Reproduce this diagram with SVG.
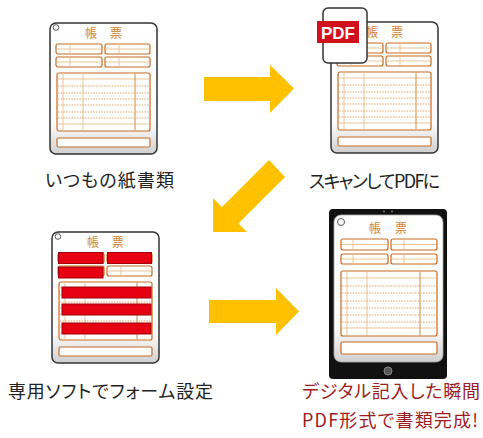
<svg xmlns="http://www.w3.org/2000/svg" xmlns:xlink="http://www.w3.org/1999/xlink" width="483" height="438" viewBox="0 0 483 438">
  <style>
    .frame { fill: url(#paper); stroke: #333; stroke-width: 1.5; }
    .box { fill: #fff; stroke: #C96A20; stroke-width: 1.2; }
    .thin { stroke: #EDC394; stroke-width: 1; fill: none; }
    .rule { stroke: #D08A45; stroke-width: 1; fill: none; }
    .dot { stroke: #E2A464; stroke-width: 1; stroke-dasharray: 1.5 1.2; fill: none; }
    .hole { fill: #fff; stroke: #555; stroke-width: 1; }
    .title { font-family: "Noto Sans CJK JP", sans-serif; font-size: 12px; fill: #D5822F; text-anchor: middle; }
    .red { fill: #E60012; stroke: #A0000A; stroke-width: 1; }
    .arrow { fill: #FFC000; }
    .label { font-family: "Noto Sans CJK JP", "Noto Sans", sans-serif; font-size: 18px; fill: #222; font-feature-settings: "palt"; }
    .accent { fill: #9E1B1E; }
  </style>
  <defs>
    <linearGradient id="paper" x1="0" y1="0" x2="0" y2="1">
      <stop offset="0" stop-color="#fff"/>
      <stop offset="0.78" stop-color="#fbfbfb"/>
      <stop offset="1" stop-color="#cfcfcf"/>
    </linearGradient>
    <!-- paper form: frame, title, two rows of fields, ruled table and footer box -->
    <g id="ledger">
      <rect class="frame" x="0" y="0" width="107" height="131" rx="6"/>
      <circle class="hole" cx="6" cy="4.5" r="2.8"/>
      <text class="title" x="41" y="14.5">帳</text>
      <text class="title" x="66" y="14.5">票</text>
      <rect class="box" x="6" y="21" width="46" height="10" rx="2"/>
      <rect class="box" x="55" y="21" width="45" height="10" rx="2"/>
      <rect class="box" x="6" y="34" width="46" height="10" rx="2"/>
      <rect class="box" x="55" y="34" width="45" height="10" rx="2"/>
      <path class="thin" d="M7 26H51M56 26H99M7 39H51M56 39H99M20 21.6V30.4M69 21.6V30.4M20 34.6V43.4M69 34.6V43.4"/>
      <rect class="box" x="7" y="50" width="93" height="58" rx="2"/>
      <path class="thin" d="M7.6 56H99.4M7.6 101H99.4M13 50.6V107.4M33 50.6V107.4"/>
      <path class="rule" d="M85 50.6V107.4"/>
      <path class="dot" d="M8 63H99M8 70H99M8 76H99M8 82H99M8 89H99M8 95H99"/>
      <rect class="box" x="7" y="115" width="93" height="9" rx="1.5"/>
    </g>
  </defs>

  <!-- step 1: paper form -->
  <g id="paper-form">
    <use xlink:href="#ledger" transform="translate(50,23)"/>
  </g>

  <!-- step 2: scanned form with PDF badge -->
  <g id="scanned-pdf">
    <use xlink:href="#ledger" transform="translate(331,22)"/>
    <rect x="323" y="8" width="44" height="55" rx="5" fill="#fff" stroke="#333" stroke-width="1.5"/>
    <rect x="317" y="21" width="42" height="22" fill="#D0101C"/>
    <text x="338" y="38.5" text-anchor="middle" font-family="Liberation Sans, Arial, sans-serif" font-weight="bold" font-size="17" fill="#fff">PDF</text>
  </g>

  <!-- step 3: form fields defined in software -->
  <g id="form-setup">
    <use xlink:href="#ledger" transform="translate(52,232)"/>
    <g transform="translate(52,232)">
      <rect class="red" x="6.5" y="20.5" width="44.5" height="11"/>
      <rect class="red" x="55.5" y="20.5" width="44" height="11"/>
      <rect class="red" x="6.5" y="35" width="44.5" height="11"/>
      <rect class="red" x="10" y="55" width="89" height="11"/>
      <rect class="red" x="10" y="72" width="89" height="11"/>
      <rect class="red" x="10" y="91" width="89" height="11"/>
    </g>
  </g>

  <!-- step 4: tablet showing the digital form -->
  <g id="tablet">
    <rect x="329" y="209" width="118" height="170" rx="4" fill="#111"/>
    <circle cx="384" cy="211.5" r="1" fill="#777"/>
    <circle cx="392" cy="211.5" r="1" fill="#777"/>
    <rect x="334" y="215" width="109" height="147" rx="7" fill="url(#paper)" stroke="#aaa" stroke-width="0.8"/>
    <circle class="hole" cx="341" cy="222" r="3.5"/>
    <text class="title" x="375" y="233" font-size="13">帳</text>
    <text class="title" x="401" y="233" font-size="13">票</text>
    <rect class="box" x="341" y="239" width="47" height="11" rx="2"/>
    <rect class="box" x="391" y="239" width="46" height="11" rx="2"/>
    <rect class="box" x="341" y="254" width="47" height="10" rx="2"/>
    <rect class="box" x="391" y="254" width="46" height="10" rx="2"/>
    <path class="thin" d="M342 244.5H387M392 244.5H436M342 259H387M392 259H436M353 239.6V249.4M404 239.6V249.4M353 254.6V263.4M404 254.6V263.4"/>
    <rect class="box" x="341" y="271" width="96" height="65" rx="2"/>
    <path class="thin" d="M341.6 278H436.4M341.6 328H436.4M347 271.6V335.4M367 271.6V335.4"/>
    <path class="rule" d="M420 271.6V335.4"/>
    <path class="dot" d="M342 286H436M342 293H436M342 301H436M342 308H436M342 315H436M342 322H436"/>
    <rect class="box" x="341" y="342" width="96" height="12" rx="1.5"/>
    <circle cx="388" cy="371" r="4" fill="#555" stroke="#888" stroke-width="1"/>
  </g>

  <!-- flow arrows -->
  <g id="connectors">
    <polygon class="arrow" points="204,77 270,77 270,65 294,88.5 270,113 270,101 204,101"/>
    <polygon class="arrow" points="269,160 285,177 238.5,223.5 247,232 213,232 213,198 222,207"/>
    <polygon class="arrow" points="209,300 276,300 276,288 299,311.5 276,335 276,323 209,323"/>
  </g>

  <!-- captions -->
  <g id="captions">
    <text class="label" x="45" y="187" textLength="129">いつもの紙書類</text>
    <text class="label" x="309" y="188" textLength="131">スキャンしてPDFに</text>
    <text class="label" x="8" y="398" textLength="205">専用ソフトでフォーム設定</text>
    <text class="label accent" x="302" y="398" textLength="178">デジタル記入した瞬間</text>
    <text class="label accent" x="302" y="427" textLength="176">PDF形式で書類完成!</text>
  </g>
</svg>
